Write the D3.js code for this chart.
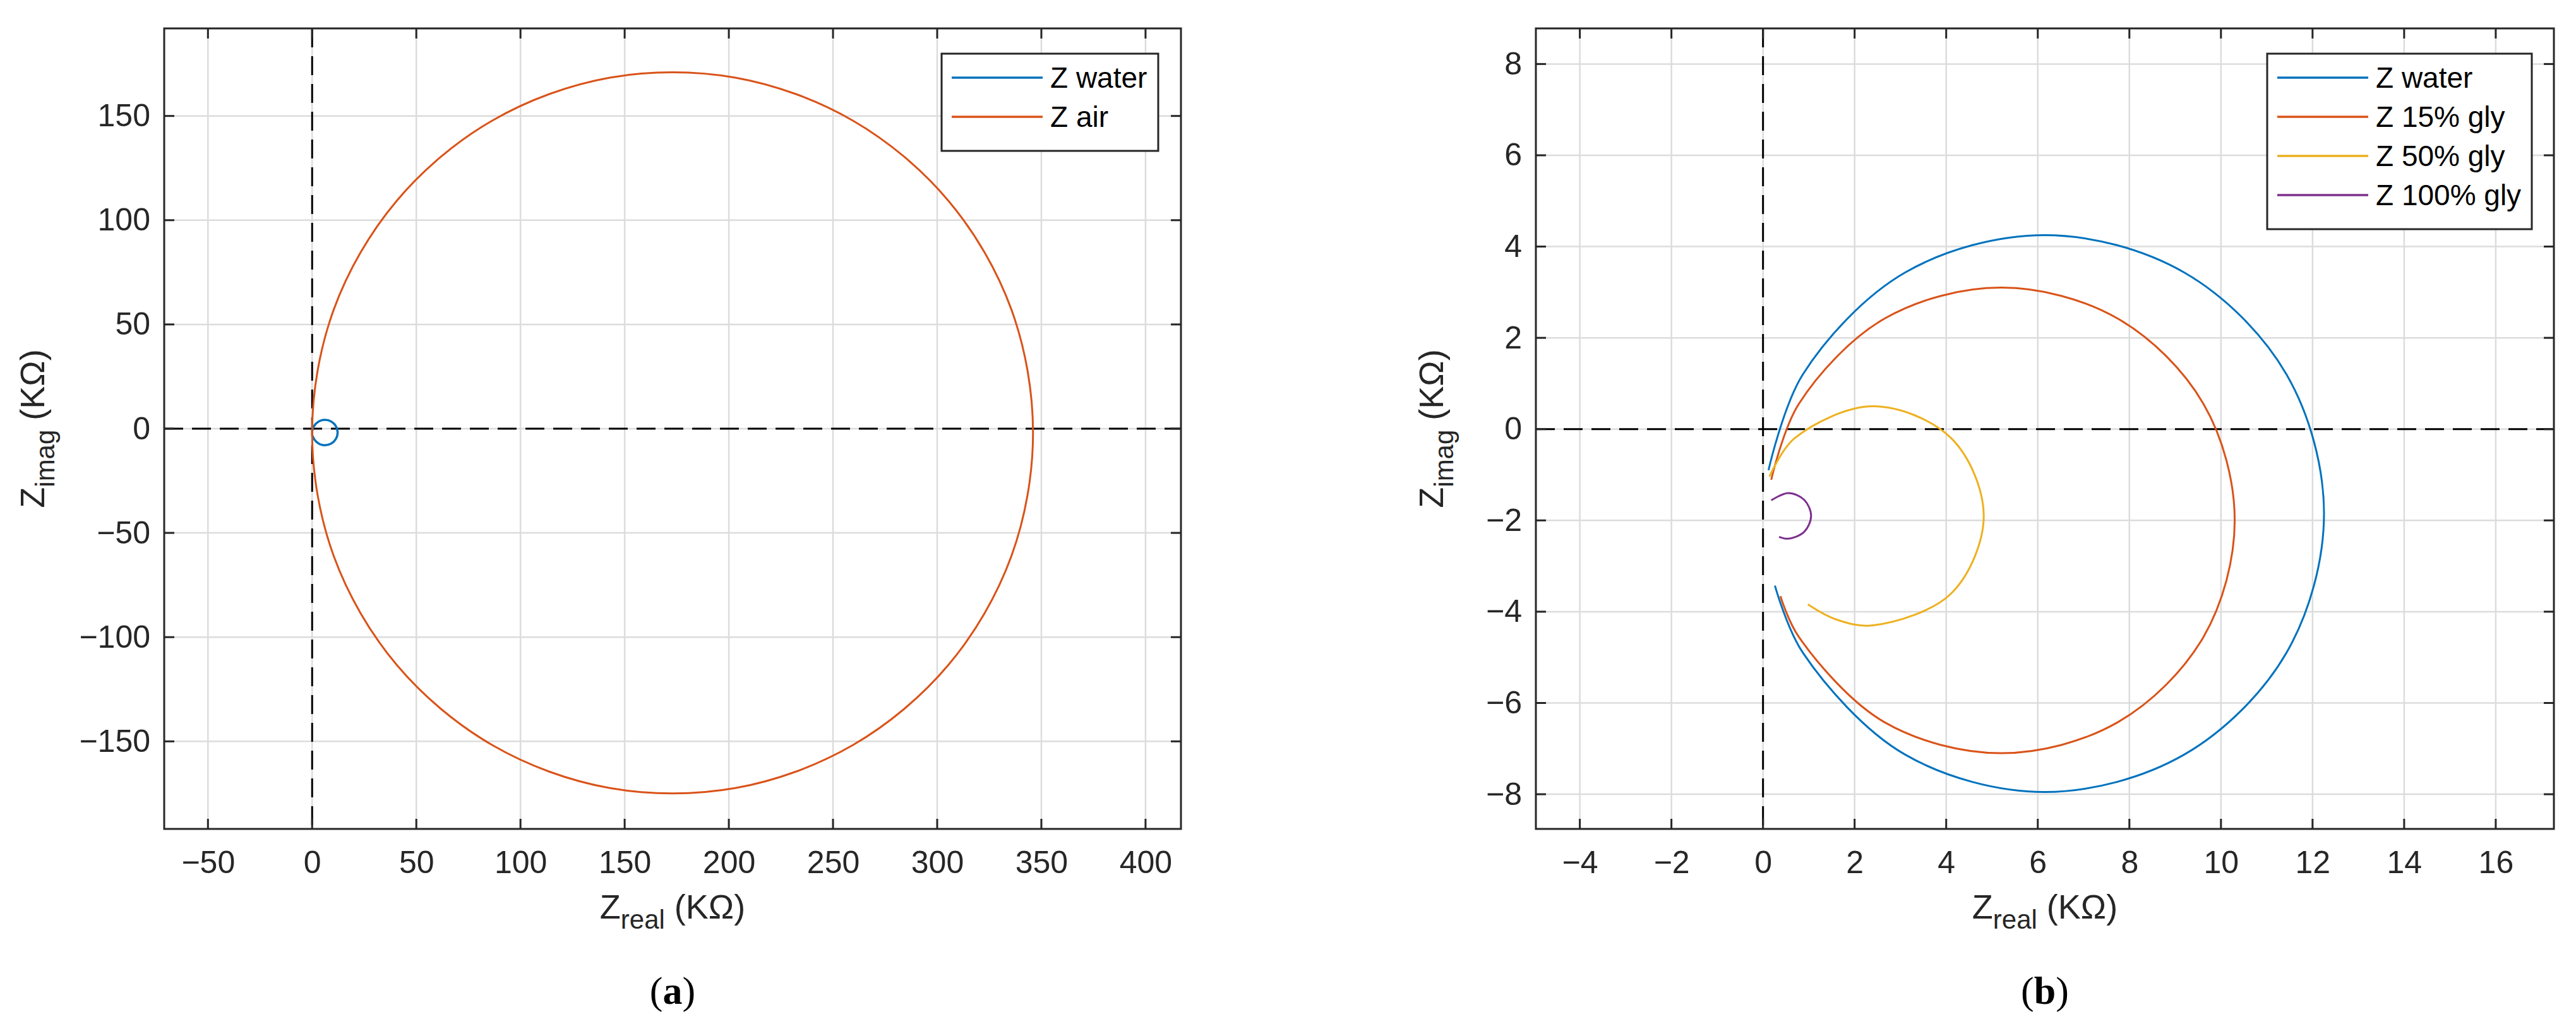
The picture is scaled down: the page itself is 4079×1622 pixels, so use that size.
<!DOCTYPE html>
<html>
<head>
<meta charset="utf-8">
<script src="https://d3js.org/d3.v7.min.js"></script>
<style>body{margin:0;background:#fff}</style>
</head>
<body>
<script>
// data (KOhm)
var waterRe = [0.12, 0.87, 3.10, 6.15, 9.20, 11.43, 12.25, 11.43, 9.20, 6.15, 3.10, 0.87, 0.26];
var waterIm = [-0.90, 1.20, 3.43, 4.25, 3.43, 1.20, -1.85, -4.90, -7.13, -7.95, -7.13, -4.90, -3.43];
var airRe = [346, 335.6, 305.5, 259.5, 203.1, 142.9, 86.5, 40.5, 10.4, 0, 10.4, 40.5, 86.5, 142.9, 203.1, 259.5, 305.5, 335.6];
var airIm = [-2, 57.2, 109.2, 147.8, 168.4, 168.4, 147.8, 109.2, 57.2, -2, -61.2, -113.2, -151.8, -172.4, -172.4, -151.8, -113.2, -61.2];
var gly15Re = [0.18, 0.78, 2.65, 5.2, 7.75, 9.62, 10.3, 9.62, 7.75, 5.2, 2.65, 0.78, 0.38];
var gly15Im = [-1.11, 0.55, 2.42, 3.10, 2.42, 0.55, -2, -4.55, -6.42, -7.10, -6.42, -4.55, -3.66];
var gly50Re = [0.14, 0.69, 2.4, 4.11, 4.82, 4.11, 2.4, 1.57, 0.98];
var gly50Im = [-1.04, -0.20, 0.50, -0.20, -1.9, -3.60, -4.30, -4.16, -3.84];
var gly100Re = [0.18, 0.55, 0.90, 1.05, 0.90, 0.55, 0.35];
var gly100Im = [-1.56, -1.40, -1.55, -1.90, -2.25, -2.40, -2.36];

var ticksA_x = [-50, 0, 50, 100, 150, 200, 250, 300, 350, 400];
var ticksA_y = [-150, -100, -50, 0, 50, 100, 150];
var ticksB_x = [-4, -2, 0, 2, 4, 6, 8, 10, 12, 14, 16];
var ticksB_y = [-8, -6, -4, -2, 0, 2, 4, 6, 8];

var W = 4079, H = 1622;
var svg = d3.select("body").append("svg").attr("width", W).attr("height", H);
var FONT = "'Liberation Sans Narrow','Liberation Sans',Arial,sans-serif";

function pts(re, im) { return re.map(function(d, i){ return [d, im[i]]; }); }

function panel(o) {
  var x = d3.scaleLinear().domain(o.xd).range([o.left, o.right]);
  var y = d3.scaleLinear().domain(o.yd).range([o.bottom, o.top]);
  var g = svg.append("g");
  // grid
  g.selectAll(".gx").data(o.tx).enter().append("line")
    .attr("x1", d => x(d)).attr("x2", d => x(d)).attr("y1", o.top).attr("y2", o.bottom)
    .attr("stroke", "#dcdcdc").attr("stroke-width", 2.5);
  g.selectAll(".gy").data(o.ty).enter().append("line")
    .attr("y1", d => y(d)).attr("y2", d => y(d)).attr("x1", o.left).attr("x2", o.right)
    .attr("stroke", "#dcdcdc").attr("stroke-width", 2.5);
  // zero lines
  g.append("line").attr("x1", x(0)).attr("x2", x(0)).attr("y1", o.top).attr("y2", o.bottom)
    .attr("stroke", "#000").attr("stroke-width", 3).attr("stroke-dasharray", "30,14");
  g.append("line").attr("y1", y(0)).attr("y2", y(0)).attr("x1", o.left).attr("x2", o.right)
    .attr("stroke", "#000").attr("stroke-width", 3).attr("stroke-dasharray", "30,14");
  // curves
  var line = d3.line().x(d => x(d[0])).y(d => y(d[1]));
  o.series.forEach(function(s) {
    g.append("path").datum(pts(s.re, s.im))
      .attr("d", line.curve(s.closed ? d3.curveCatmullRomClosed : d3.curveCatmullRom)(pts(s.re, s.im)))
      .attr("fill", "none").attr("stroke", s.color).attr("stroke-width", s.w || 3);
  });
  // box + ticks
  var tl = 16;
  g.append("rect").attr("x", o.left).attr("y", o.top).attr("width", o.right - o.left).attr("height", o.bottom - o.top)
    .attr("fill", "none").attr("stroke", "#262626").attr("stroke-width", 3);
  var ax = d3.axisBottom(x).tickValues(o.tx).tickSize(0).tickPadding(34);
  var ay = d3.axisLeft(y).tickValues(o.ty).tickSize(0).tickPadding(22);
  var gxa = g.append("g").attr("transform", "translate(0," + o.bottom + ")").call(ax);
  var gya = g.append("g").attr("transform", "translate(" + o.left + ",0)").call(ay);
  [gxa, gya].forEach(function(a){
    a.select(".domain").remove();
    a.selectAll("text").attr("font-family", FONT).attr("font-size", 50).attr("fill", "#262626");
  });
  gxa.selectAll("text").attr("dy", "0.71em");
  o.tx.forEach(function(t) {
    g.append("line").attr("x1", x(t)).attr("x2", x(t)).attr("y1", o.bottom).attr("y2", o.bottom - tl).attr("stroke", "#262626").attr("stroke-width", 3);
    g.append("line").attr("x1", x(t)).attr("x2", x(t)).attr("y1", o.top).attr("y2", o.top + tl).attr("stroke", "#262626").attr("stroke-width", 3);
  });
  o.ty.forEach(function(t) {
    g.append("line").attr("y1", y(t)).attr("y2", y(t)).attr("x1", o.left).attr("x2", o.left + tl).attr("stroke", "#262626").attr("stroke-width", 3);
    g.append("line").attr("y1", y(t)).attr("y2", y(t)).attr("x1", o.right).attr("x2", o.right - tl).attr("stroke", "#262626").attr("stroke-width", 3);
  });
  // axis labels
  var cx = (o.left + o.right) / 2;
  var xl = g.append("text").attr("x", cx).attr("y", 1455).attr("text-anchor", "middle")
    .attr("font-family", FONT).attr("font-size", 54).attr("fill", "#262626");
  xl.append("tspan").text("Z");
  xl.append("tspan").attr("dy", 16).attr("font-size", 42).text("real");
  xl.append("tspan").attr("dy", -16).text(" (K\u03A9)");
  var cy = (o.top + o.bottom) / 2;
  var yl = g.append("text").attr("transform", "translate(" + o.ylx + "," + cy + ") rotate(-90)")
    .attr("text-anchor", "middle").attr("font-family", FONT).attr("font-size", 54).attr("fill", "#262626");
  yl.append("tspan").text("Z");
  yl.append("tspan").attr("dy", 16).attr("font-size", 42).text("imag");
  yl.append("tspan").attr("dy", -16).text(" (K\u03A9)");
  // panel title
  var tt = g.append("text").attr("x", cx).attr("y", 1590).attr("text-anchor", "middle")
    .attr("font-family", "'Liberation Serif','Times New Roman',serif").attr("font-size", 62).attr("fill", "#000");
  tt.append("tspan").text("(");
  tt.append("tspan").attr("font-weight", "bold").text(o.tag);
  tt.append("tspan").text(")");
  // legend
  var lg = g.append("g");
  lg.append("rect").attr("x", o.lx).attr("y", 85).attr("width", o.lw).attr("height", 30 + 62 * o.series.length)
    .attr("fill", "#fff").attr("stroke", "#262626").attr("stroke-width", 3);
  o.series.forEach(function(s, i) {
    var yy = 85 + 38 + i * 62;
    lg.append("line").attr("x1", o.lx + 16).attr("x2", o.lx + 160).attr("y1", yy).attr("y2", yy)
      .attr("stroke", s.color).attr("stroke-width", 3.5);
    lg.append("text").attr("x", o.lx + 172).attr("y", yy).attr("dy", "0.35em")
      .attr("font-family", FONT).attr("font-size", 46).attr("fill", "#000").text(s.name);
  });
}

panel({
  left: 260, right: 1870, top: 45, bottom: 1313,
  xd: [-71, 417], yd: [-192, 192], tx: ticksA_x, ty: ticksA_y, ylx: 70, tag: "a",
  lx: 1491, lw: 343,
  series: [
    { name: "Z water", re: waterRe, im: waterIm, color: "#0072BD", w: 3.5 },
    { name: "Z air", re: airRe, im: airIm, color: "#D95319", closed: true }
  ]
});

panel({
  left: 2432, right: 4044, top: 45, bottom: 1313,
  xd: [-4.96, 17.27], yd: [-8.76, 8.78], tx: ticksB_x, ty: ticksB_y, ylx: 2285, tag: "b",
  lx: 3590, lw: 419,
  series: [
    { name: "Z water", re: waterRe, im: waterIm, color: "#0072BD" },
    { name: "Z 15% gly", re: gly15Re, im: gly15Im, color: "#D95319" },
    { name: "Z 50% gly", re: gly50Re, im: gly50Im, color: "#EDB120" },
    { name: "Z 100% gly", re: gly100Re, im: gly100Im, color: "#7E2F8E" }
  ]
});
</script>
</body>
</html>
